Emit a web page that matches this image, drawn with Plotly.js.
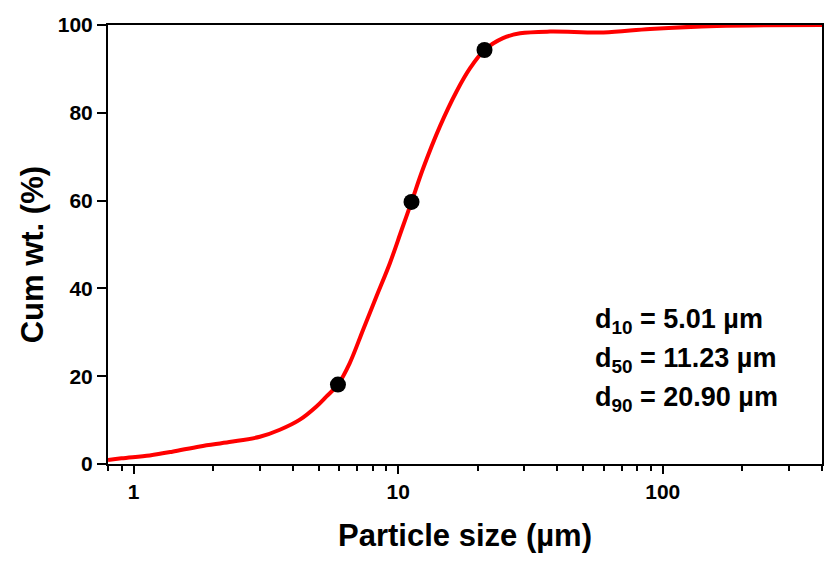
<!DOCTYPE html>
<html>
<head>
<meta charset="utf-8">
<script src="https://cdn.plot.ly/plotly-3.0.1.min.js"></script>
<style>
  html, body { margin: 0; padding: 0; background: #ffffff; }
  #chart { width: 837px; height: 565px; }
</style>
</head>
<body>
<div id="chart"></div>
<script>
// Cumulative particle size distribution (wt. %)
const sizeUm = [0.8, 0.9, 1.15, 1.4, 1.78, 2.3, 3.0, 3.57, 4.25, 4.91, 5.36, 5.92, 6.56, 7.37, 8.28, 9.31, 10.3, 11.23, 12.42, 14.38, 16.6, 18.67, 21.2, 24.9, 28.9, 37.5, 59.7, 89.6, 160, 400];
const cumWt  = [0.9, 1.3, 1.96, 2.8, 4.0, 5.0, 6.2, 7.8, 10.1, 13.1, 15.4, 18.1, 23.0, 30.6, 38.2, 45.8, 53.3, 59.7, 67.3, 76.9, 84.8, 90.1, 94.3, 97.0, 98.1, 98.5, 98.3, 99.1, 99.8, 100];

// Highlighted points on the curve
const markerSize = [5.92, 11.23, 21.2];
const markerWt   = [18.1, 59.7, 94.3];

// Characteristic diameters
const dLabels = ['10', '50', '90'];
const dValues = ['5.01', '11.23', '20.90'];

// Axis ticks
const xTickVals = [1, 10, 100];
const xTickText = ['1', '10', '100'];
const xMinorVals = [0.8, 0.9, 2, 3, 4, 5, 6, 7, 8, 9, 20, 30, 40, 50, 60, 70, 80, 90, 200, 300, 400];
const yTickVals = [0, 20, 40, 60, 80, 100];

const FONT = 'Liberation Sans, Arial, sans-serif';

const traces = [
  {
    x: sizeUm, y: cumWt,
    type: 'scatter', mode: 'lines',
    line: { color: '#ff0000', width: 4, shape: 'spline', smoothing: 1 },
    hoverinfo: 'skip'
  },
  {
    x: markerSize, y: markerWt,
    type: 'scatter', mode: 'markers',
    marker: { color: '#000000', size: 16, symbol: 'circle' }
  }
];

const annYs = [32.5, 23.8, 14.8];
const annotations = dLabels.map((lab, i) => ({
  xref: 'paper', yref: 'y',
  x: 0.679, y: annYs[i],
  xanchor: 'left', yanchor: 'middle',
  text: 'd<sub>' + lab + '</sub> = ' + dValues[i] + ' µm',
  showarrow: false,
  font: { family: FONT, size: 27, color: '#000000', weight: 'bold' }
}));

// Vertical axis label
annotations.push({
  xref: 'paper', yref: 'y',
  x: -0.106, y: 47.6,
  xanchor: 'center', yanchor: 'middle',
  textangle: -90,
  text: 'Cum wt. (%)',
  showarrow: false,
  font: { family: FONT, size: 31, color: '#000000', weight: 'bold' }
});

const layout = {
  width: 837, height: 565,
  margin: { l: 108, r: 15, t: 25, b: 101 },
  paper_bgcolor: '#ffffff', plot_bgcolor: '#ffffff',
  showlegend: false,
  font: { family: FONT, color: '#000000' },
  xaxis: {
    type: 'log',
    range: [Math.log10(0.8), Math.log10(400)],
    tickmode: 'array', tickvals: xTickVals, ticktext: xTickText,
    ticks: 'outside', ticklen: 8, tickwidth: 2, tickcolor: '#000000',
    minor: { tickmode: 'array', tickvals: xMinorVals, ticks: 'outside', ticklen: 5, tickwidth: 2, tickcolor: '#000000', showgrid: false },
    showline: true, linewidth: 2, linecolor: '#000000', mirror: true,
    showgrid: false, zeroline: false, automargin: false,
    tickfont: { family: FONT, size: 21, color: '#000000', weight: 'bold' },
    title: { text: 'Particle size (µm)', standoff: 22, font: { family: FONT, size: 31, color: '#000000', weight: 'bold' } }
  },
  yaxis: {
    range: [0, 100],
    tickmode: 'array', tickvals: yTickVals,
    ticks: 'outside', ticklen: 9, tickwidth: 2, tickcolor: '#000000',
    showline: true, linewidth: 2, linecolor: '#000000', mirror: true,
    showgrid: false, zeroline: false, automargin: false,
    tickfont: { family: FONT, size: 21, color: '#000000', weight: 'bold' }
  },
  annotations: annotations
};

Plotly.newPlot('chart', traces, layout, { displayModeBar: false, staticPlot: true });
</script>
</body>
</html>
